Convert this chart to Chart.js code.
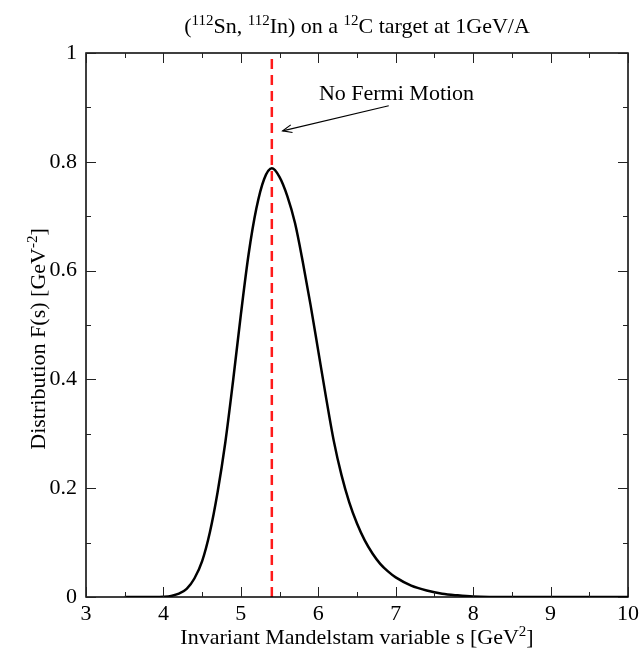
<!DOCTYPE html>
<html>
<head>
<meta charset="utf-8">
<script src="https://cdn.jsdelivr.net/npm/chart.js@4.4.1/dist/chart.umd.min.js"></script>
<style>
  html, body { margin: 0; padding: 0; background: #fff; }
  #wrap { width: 643px; height: 656px; position: relative; }
</style>
</head>
<body>
<div id="wrap"><canvas id="c" width="643" height="656"></canvas></div>
<script>
// ---- Data ----
const sValues = [3.5, 3.6, 3.7, 3.8, 3.9, 4.0, 4.1, 4.2, 4.3, 4.4, 4.5, 4.6, 4.7, 4.8, 4.9, 5.0, 5.1, 5.2, 5.3, 5.4, 5.5, 5.6, 5.7, 5.8, 5.9, 6.0, 6.1, 6.2, 6.3, 6.4, 6.5, 6.6, 6.7, 6.8, 6.9, 7.0, 7.2, 7.4, 7.6, 7.8, 8.0, 8.5, 9.0, 9.5, 10.0];
const fValues = [0.0, 0.0, 0.0, 0.0, 0.0, 0.0005, 0.002, 0.006, 0.015, 0.034, 0.066, 0.119, 0.193, 0.285, 0.398, 0.519, 0.630, 0.714, 0.768, 0.788, 0.772, 0.737, 0.687, 0.616, 0.537, 0.452, 0.367, 0.287, 0.224, 0.174, 0.135, 0.104, 0.080, 0.061, 0.047, 0.036, 0.021, 0.012, 0.006, 0.003, 0.001, 0.0, 0.0, 0.0, 0.0];
const noFermiS = 5.4;
const xTickValues = [3, 4, 5, 6, 7, 8, 9, 10];
const yTickValues = [0, 0.2, 0.4, 0.6, 0.8, 1];
// rich text segments: [text, isSuperscript]
const titleSegs = [["(", 0], ["112", 1], ["Sn, ", 0], ["112", 1], ["In) on a ", 0], ["12", 1], ["C target at 1GeV/A", 0]];
const xTitleSegs = [["Invariant Mandelstam variable s [GeV", 0], ["2", 1], ["]", 0]];
const yTitleSegs = [["Distribution F(s) [GeV", 0], ["-2", 1], ["]", 0]];
const annotationText = "No Fermi Motion";
const annotationTextPos = [7.01, 0.925];
const arrowFrom = [6.91, 0.903];
const arrowTo = [5.54, 0.857];

const FONT = "'Liberation Serif', 'Times New Roman', serif";
const FS = 22, SUPFS = 15, SUPRISE = 8;

const curve = sValues.map((s, i) => ({ x: s, y: fValues[i] }));
const dashed = [{ x: noFermiS, y: 0 }, { x: noFermiS, y: 1 }];

function drawRich(ctx, segs, cx, cy) {
  let total = 0;
  const widths = segs.map(([t, sup]) => {
    ctx.font = (sup ? SUPFS : FS) + 'px ' + FONT;
    const w = ctx.measureText(t).width; total += w; return w;
  });
  let xx = cx - total / 2;
  ctx.textAlign = 'left';
  ctx.textBaseline = 'alphabetic';
  segs.forEach(([t, sup], i) => {
    ctx.font = (sup ? SUPFS : FS) + 'px ' + FONT;
    ctx.fillText(t, xx, cy + 7 - (sup ? SUPRISE : 0));
    xx += widths[i];
  });
}

const decor = {
  id: 'decor',
  afterDatasetsDraw(chart) {
    const { ctx, chartArea: a, scales: { x, y } } = chart;
    ctx.save();
    ctx.strokeStyle = '#000';
    ctx.lineWidth = 1.5;
    ctx.strokeRect(a.left, a.top, a.right - a.left, a.bottom - a.top);
    ctx.lineWidth = 1;
    ctx.strokeStyle = '#222';
    for (let v = 3; v <= 10.001; v += 0.5) {
      const px = Math.round(x.getPixelForValue(v)) + 0.5;
      const len = Math.abs(v - Math.round(v)) < 1e-6 ? 10 : 5;
      ctx.beginPath();
      ctx.moveTo(px, a.bottom); ctx.lineTo(px, a.bottom - len);
      ctx.moveTo(px, a.top); ctx.lineTo(px, a.top + len);
      ctx.stroke();
    }
    for (let k = 0; k <= 10; k++) {
      const v = k / 10;
      const py = Math.round(y.getPixelForValue(v)) + 0.5;
      const len = k % 2 === 0 ? 10 : 5;
      ctx.beginPath();
      ctx.moveTo(a.left, py); ctx.lineTo(a.left + len, py);
      ctx.moveTo(a.right, py); ctx.lineTo(a.right - len, py);
      ctx.stroke();
    }
    ctx.fillStyle = '#000';
    drawRich(ctx, titleSegs, (a.left + a.right) / 2, 26);
    drawRich(ctx, xTitleSegs, (a.left + a.right) / 2, 637);
    ctx.save();
    ctx.translate(38, (a.top + a.bottom) / 2 + 14);
    ctx.rotate(-Math.PI / 2);
    drawRich(ctx, yTitleSegs, 0, 0);
    ctx.restore();
    ctx.font = FS + 'px ' + FONT;
    ctx.textAlign = 'center';
    ctx.textBaseline = 'middle';
    ctx.fillText(annotationText, x.getPixelForValue(annotationTextPos[0]), y.getPixelForValue(annotationTextPos[1]));
    const x1 = x.getPixelForValue(arrowFrom[0]), y1 = y.getPixelForValue(arrowFrom[1]);
    const x2 = x.getPixelForValue(arrowTo[0]), y2 = y.getPixelForValue(arrowTo[1]);
    ctx.strokeStyle = '#000';
    ctx.lineWidth = 1.2;
    ctx.beginPath(); ctx.moveTo(x1, y1); ctx.lineTo(x2, y2); ctx.stroke();
    const ang = Math.atan2(y2 - y1, x2 - x1);
    const hl = 10, hw = 0.4;
    ctx.beginPath();
    ctx.moveTo(x2 - hl * Math.cos(ang - hw), y2 - hl * Math.sin(ang - hw));
    ctx.lineTo(x2, y2);
    ctx.lineTo(x2 - hl * Math.cos(ang + hw), y2 - hl * Math.sin(ang + hw));
    ctx.stroke();
    ctx.restore();
  }
};

new Chart(document.getElementById('c'), {
  type: 'scatter',
  data: {
    datasets: [
      { data: curve, showLine: true, borderColor: '#000', borderWidth: 2.5, pointRadius: 0, cubicInterpolationMode: 'monotone', fill: false },
      { data: dashed, showLine: true, borderColor: '#ff1a1a', borderWidth: 2.5, borderDash: [10, 6], pointRadius: 0, fill: false }
    ]
  },
  options: {
    responsive: false,
    animation: false,
    events: [],
    layout: { padding: { top: 53, right: 12, left: 0, bottom: 0 } },
    plugins: { legend: { display: false }, tooltip: { enabled: false }, title: { display: false } },
    scales: {
      x: {
        type: 'linear', min: 3, max: 10,
        afterFit(s) { s.height = 59; },
        afterBuildTicks(s) { s.ticks = xTickValues.map(v => ({ value: v })); },
        grid: { display: false, drawTicks: false },
        border: { display: false },
        ticks: { color: '#000', font: { family: FONT, size: FS }, padding: 4, maxRotation: 0, callback: v => String(v) }
      },
      y: {
        type: 'linear', min: 0, max: 1,
        afterFit(s) { s.width = 86; },
        afterBuildTicks(s) { s.ticks = yTickValues.map(v => ({ value: v })); },
        grid: { display: false, drawTicks: false },
        border: { display: false },
        ticks: { color: '#000', font: { family: FONT, size: FS }, padding: 9, callback: v => String(v) }
      }
    }
  },
  plugins: [decor]
});
</script>
</body>
</html>
